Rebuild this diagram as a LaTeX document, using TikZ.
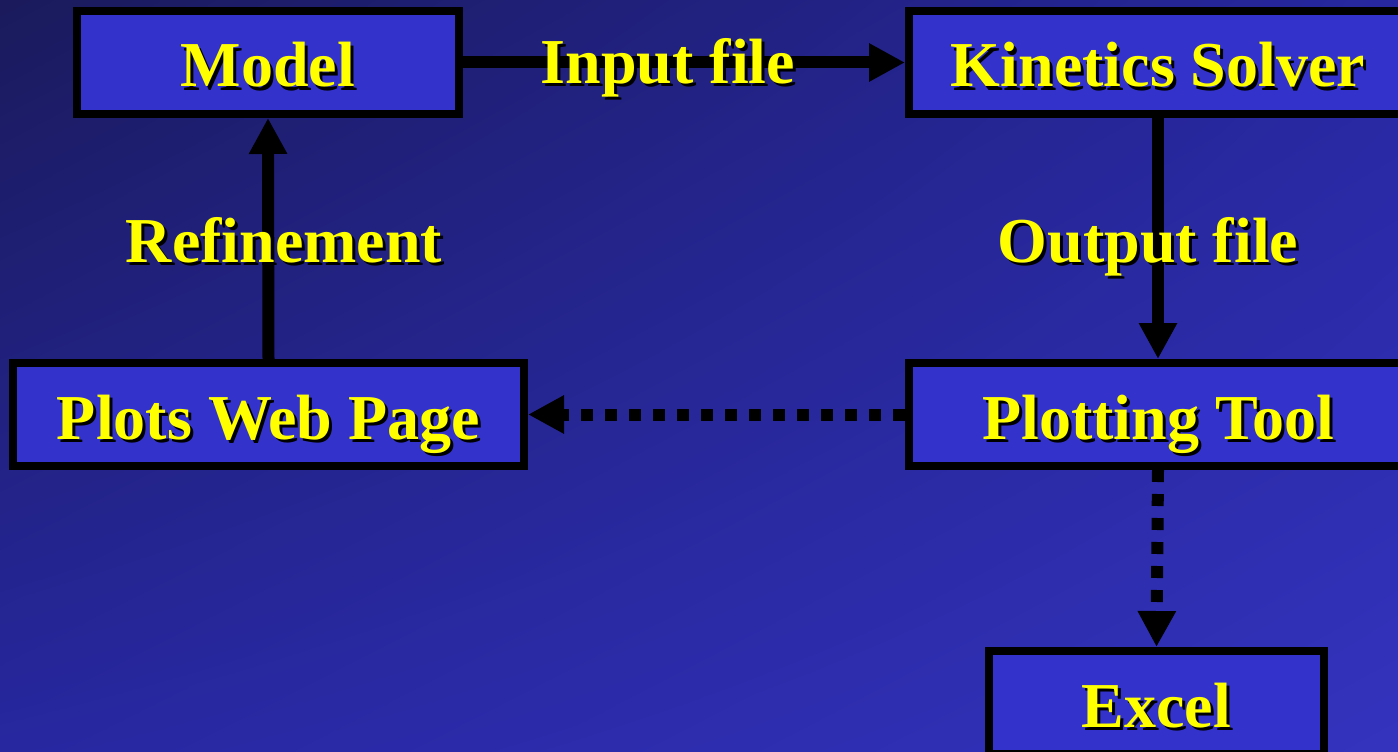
\documentclass[tikz,border=0pt]{standalone}
\usepackage{fontspec}
\setmainfont{Liberation Serif}
\usetikzlibrary{arrows.meta,shadings}
\definecolor{boxblue}{HTML}{3333CC}
\definecolor{txtyellow}{HTML}{FFFF00}
\definecolor{bgA}{HTML}{1A1A5C}
\definecolor{bgB}{HTML}{2727A0}
\definecolor{bgC}{HTML}{3333BE}
\newcommand\shd[1]{\leavevmode\rlap{\kern3pt\raisebox{-3pt}{\color{black}#1}}{\color{txtyellow}#1}}
\begin{document}
\begin{tikzpicture}[x=1pt,y=-1pt,
  box/.style={draw=black,line width=8pt,fill=boxblue,minimum height=103pt,inner sep=0pt,
    font=\fontsize{64}{70}\selectfont\bfseries,text height=52pt,text depth=3pt},
  lbl/.style={font=\fontsize{64}{70}\selectfont\bfseries,inner sep=0pt,anchor=base},
  conn/.style={line width=12pt,-{Triangle[length=36pt,width=36pt]}},
  dotconn/.style={conn,dash pattern=on 12pt off 12pt}]
\clip (0,0) rectangle (1398,752);
\useasboundingbox (0,0) rectangle (1398,752);
\shade[upper left=bgA,upper right=bgB,lower left=bgB,lower right=bgC] (0,0) rectangle (1398,752);
\node[box,minimum width=382pt] (model) at (268,62.5) {\shd{Model}};
\node[box,minimum width=498pt] (kin) at (1158,62.5) {\shd{Kinetics Solver}};
\node[box,minimum width=498pt] (plot) at (1158,414.5) {\shd{Plotting Tool}};
\node[box,minimum width=511pt] (web) at (268.5,414.5) {\shd{Plots Web Page}};
\node[box,minimum width=335pt] (excel) at (1156.5,702.5) {\shd{Excel}};
\draw[conn] (model.east) -- (kin.west);
\draw[conn] (kin.south) -- (plot.north);
\draw[dotconn] (plot.west) -- (web.east);
\draw[dotconn] (plot.south) -- (excel.north);
\draw[conn] (web.north) -- (model.south);
\node[lbl] (linput) at (668,84) {\shd{Input file}};
\node[lbl] (lref) at (284,262) {\shd{Refinement}};
\node[lbl] (lout) at (1148,262) {\shd{Output file}};
\end{tikzpicture}
\end{document}
